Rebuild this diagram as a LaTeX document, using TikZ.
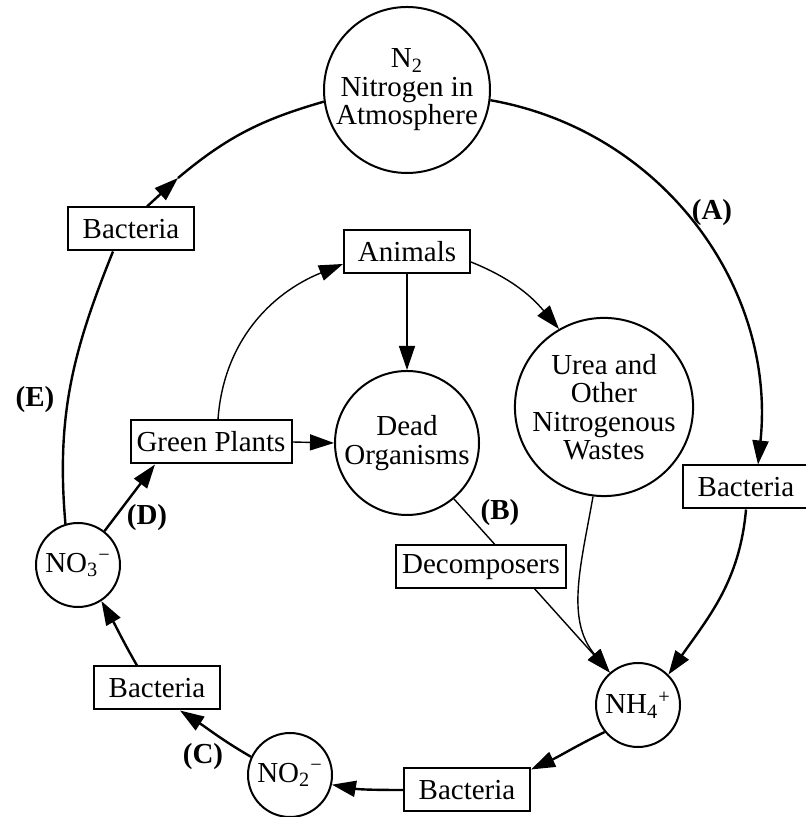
\documentclass[tikz,border=0pt]{standalone}
\usepackage{fontspec}
\setmainfont{Liberation Serif}
\usetikzlibrary{arrows.meta}
\tikzstyle{cycle}=[x=0.5pt,y=0.5pt,font=\fontsize{14.5}{14.2}\selectfont]
\tikzstyle{pool}=[circle, draw, line width=1pt, inner sep=0pt, align=center]
\tikzstyle{bigpool}=[pool, minimum size=83pt]
\tikzstyle{midpool}=[pool, minimum size=72pt]
\tikzstyle{urpool}=[pool, minimum size=84pt]
\tikzstyle{ion}=[pool, minimum size=42pt]
\tikzstyle{agent}=[rectangle, draw, line width=1pt, fill=white, inner xsep=3pt, minimum width=63pt, minimum height=21.5pt]
\tikzstyle{tag}=[inner sep=1pt, font=\fontsize{14.5}{14.2}\selectfont\bfseries]
\tikzstyle{ring}=[line width=1.2pt, -{Triangle[length=12pt,width=8pt]}]
\tikzstyle{plain}=[line width=1.2pt]
\tikzstyle{feed}=[line width=0.7pt, -{Triangle[length=12pt,width=8pt]}]

\begin{document}
\begin{tikzpicture}[cycle]
				\useasboundingbox (0,0) rectangle (805,817);

				%The pools
				\draw (407,727) node[bigpool] (n2) {N\textsubscript{2}\\Nitrogen in\\Atmosphere};
				\draw (407,374) node[midpool] (dead) {Dead\\Organisms};
				\draw (604,410) node[urpool] (urea) {Urea and\\Other\\Nitrogenous\\Wastes};
				\draw (638,112) node[ion] (nh4) {NH\textsubscript{4}\textsuperscript{+}};
				\draw (290,42) node[ion] (no2) {NO\textsubscript{2}\textsuperscript{−}};
				\draw (78,252) node[ion] (no3) {NO\textsubscript{3}\textsuperscript{−}};

				%The organisms
				\draw (407,565) node[agent] (animals) {Animals};
				\draw (211,375) node[agent] (green) {Green Plants};
				\draw (131,588) node[agent] (bactE) {Bacteria};
				\draw (746,330) node[agent] (bactA) {Bacteria};
				\draw (467,27) node[agent] (bactB) {Bacteria};
				\draw (157,129) node[agent] (bactC) {Bacteria};
				\coordinate (tipE) at (178,639);

				%The letters
				\draw (712,604) node[tag] (la) {(A)};
				\draw (500,304) node[tag] (lb) {(B)};
				\draw (203,60) node[tag] (lc) {(C)};
				\draw (147,299) node[tag] (ld) {(D)};
				\draw (35,417) node[tag] (le) {(E)};

				%The outer ring
				\draw[ring] (n2.-7) to[out=-10, in=84] ([xshift=6pt]bactA.north);
				\draw[ring] (bactA.south) to[out=-95, in=55] (nh4.45);
				\draw[ring] (nh4.219) to[out=-154, in=25] ([yshift=-1pt]bactB.north east);
				\draw[ring] (bactB.west) to[out=180, in=-10] (no2.-13);
				\draw[ring] (no2.155) to[out=150, in=-33] ([xshift=11.5pt]bactC.south);
				\draw[ring] ([xshift=-10pt]bactC.north) to[out=120, in=-60] (no3.-57);
				\draw[plain] (no3.107) to[out=95, in=-112] ([xshift=-9pt]bactE.south);
				\draw[ring] ([xshift=8pt]bactE.north) -- (tipE);
				\draw[plain] (tipE) to[out=40, in=-164] (n2.188);

				%The inner web
				\draw[ring] (no3.52) -- ([xshift=-28pt]green.south);
				\draw[feed] (green.east) -- (dead.west);
				\draw[feed] ([xshift=3.5pt]green.north) to[out=86, in=-158] ([yshift=-6pt]animals.west);
				\draw[feed] (animals.south) -- (dead.north);
				\draw[feed] ([yshift=-5pt]animals.east) to[out=-22, in=130] (urea.120);
				\draw[feed] (urea.-97) to[out=-100, in=130] (nh4.131);
				\draw[feed] (dead.-50) -- (nh4.131);
				\draw (481,250) node[agent] (decomp) {Decomposers};
			\end{tikzpicture}
\end{document}
